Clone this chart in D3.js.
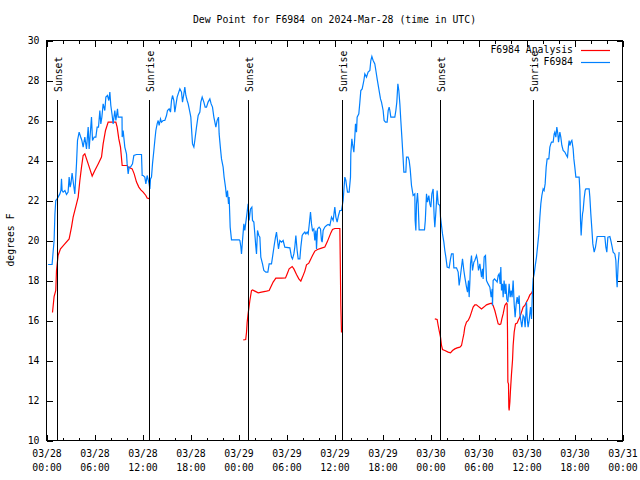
<!DOCTYPE html>
<html><head><meta charset="utf-8">
<script src="https://cdn.jsdelivr.net/npm/d3@7"></script>
<style>
body{margin:0;background:#fff;}
svg{display:block;}
text{font-family:"DejaVu Sans Mono",monospace;font-size:9.8px;fill:#000;}
</style></head><body>
<svg id="c" width="640" height="480"></svg>
<script>
const chartTitle = "Dew Point for F6984 on 2024-Mar-28 (time in UTC)";
const yLabel = "degrees F";
const seriesNames = ["F6984 Analysis", "F6984"];
const seriesColors = ["#ff0000", "#0080ff"];
const startUTC = Date.UTC(2024, 2, 28, 0, 0);
const endUTC = Date.UTC(2024, 2, 31, 0, 0);
const yTicks = [10, 12, 14, 16, 18, 20, 22, 24, 26, 28, 30];

// sun events: hours after 03/28 00:00 UTC
const sunHours = [1.33, 12.9, 25.2, 36.96, 49.2, 60.83];
const sunLabels = ["Sunset", "Sunrise", "Sunset", "Sunrise", "Sunset", "Sunrise"];

// observations F6984: [hours after start, degrees F]
const obsPoints = [
[0.2,18.8],[0.7,18.8],[0.8,19.3],[0.95,20.0],[1.05,21.3],[1.16,22.0],[1.33,22.08],[1.67,22.33],[1.8,22.5],[1.875,23.08],[1.95,22.5],[2.08,22.42],[2.3,22.5],[2.5,22.3],[2.7,22.42],[2.83,23.17],[2.95,22.67],[3.05,22.83],[3.2,23.37],[3.35,22.9],[3.54,22.33],[3.75,23.83],[3.875,25.0],[4.08,25.42],[4.25,25.2],[4.42,25.0],[4.58,24.67],[4.79,25.17],[5.0,24.58],[5.21,25.67],[5.33,24.58],[5.5,25.5],[5.625,26.17],[5.75,25.0],[5.96,25.17],[6.17,25.17],[6.33,25.67],[6.5,25.67],[6.67,26.5],[6.79,25.83],[6.92,26.17],[7.08,26.83],[7.29,26.5],[7.42,27.17],[7.625,27.25],[7.79,27.0],[7.92,27.42],[8.04,26.75],[8.21,26.25],[8.33,25.83],[8.54,26.5],[8.67,26.0],[8.875,26.58],[8.96,26.17],[9.44,26.17],[9.46,25.17],[9.58,25.5],[9.79,24.67],[10.0,24.33],[10.08,23.83],[10.21,23.33],[10.33,23.67],[10.5,23.67],[10.75,23.83],[10.92,24.25],[11.25,24.3],[11.875,24.3],[11.96,23.25],[12.08,23.25],[12.29,23.17],[12.42,22.83],[12.58,23.25],[12.83,22.83],[12.92,22.58],
[13.0,23.08],[13.125,23.17],[13.25,23.83],[13.42,24.5],[13.54,25.0],[13.67,25.5],[13.83,25.83],[13.96,26.0],[14.08,25.75],[14.25,26.08],[14.375,25.92],[14.58,26.0],[14.79,26.0],[15.0,26.25],[15.125,26.5],[15.33,26.58],[15.5,26.42],[15.625,27.0],[15.75,27.25],[15.92,27.0],[16.04,26.42],[16.17,26.75],[16.33,27.17],[16.46,27.33],[16.67,27.58],[16.875,27.42],[17.0,26.92],[17.17,27.33],[17.29,27.67],[17.42,27.25],[17.58,27.0],[17.71,26.83],[17.92,26.42],[18.04,26.17],[18.17,25.33],[18.25,24.83],[18.42,24.67],[18.54,25.0],[18.75,25.67],[18.96,26.25],[19.17,26.42],[19.29,26.92],[19.46,27.17],[19.67,26.92],[19.83,26.67],[20.0,26.67],[20.2,26.92],[20.42,27.08],[20.58,26.83],[20.75,26.67],[20.92,26.17],[21.17,25.67],[21.33,26.0],[21.5,26.17],[21.58,25.33],[21.75,24.58],[21.875,24.08],[22.08,23.67],[22.2,23.17],[22.375,22.67],[22.5,22.17],[22.625,22.5],[22.75,21.83],[22.83,22.17],[22.96,20.67],[23.125,20.03],[24.1,20.03],
[24.17,20.0],[24.29,19.7],[24.375,19.33],[24.5,20.0],[24.67,20.83],[24.79,20.5],[24.92,20.92],[25.08,21.42],[25.2,21.83],[25.33,21.0],[25.5,21.58],[25.67,21.67],[25.75,21.0],[25.92,20.92],[26.04,20.33],[26.17,19.67],[26.25,19.33],[26.375,20.5],[26.54,20.25],[26.67,20.17],[26.79,19.17],[27.0,18.83],[27.17,18.5],[27.42,18.42],[27.67,18.42],[27.83,18.83],[28.125,18.83],[28.25,19.17],[28.46,19.75],[28.625,20.17],[28.75,20.42],[28.875,20.0],[29.0,19.58],[29.17,20.0],[29.375,19.92],[29.58,20.0],[29.79,19.67],[30.42,19.63],[30.625,19.17],[30.75,19.08],[30.92,19.33],[31.04,19.67],[31.17,20.25],[31.33,19.5],[31.46,19.08],[31.67,19.08],[31.79,19.67],[31.96,20.25],[32.08,20.33],[32.29,20.42],[32.42,20.33],[32.58,20.42],[32.71,20.33],[32.83,20.75],[33.0,21.42],[33.125,20.83],[33.25,20.5],[33.42,20.58],[33.54,20.0],[33.67,20.5],[33.75,19.58],[33.875,20.58],[34.08,20.67],[34.25,20.58],[34.375,20.0],[34.46,19.92],[34.58,20.5],[34.79,20.67],[35.0,20.75],[35.2,20.8],
[35.42,20.75],[35.625,21.17],[35.83,21.0],[36.04,21.67],[36.17,21.17],[36.33,20.92],[36.5,21.25],[36.67,21.5],[36.875,21.5],[37.08,22.0],[37.29,23.17],[37.42,23.0],[37.5,22.75],[37.625,22.42],[37.83,22.42],[38.0,23.17],[38.04,24.33],[38.17,25.08],[38.25,24.83],[38.42,24.42],[38.54,25.17],[38.625,25.83],[38.75,25.42],[38.83,26.17],[39.04,26.33],[39.17,26.92],[39.29,27.5],[39.46,27.58],[39.67,28.0],[39.79,28.33],[40.0,28.17],[40.2,28.42],[40.42,28.5],[40.54,29.0],[40.67,29.2],[40.83,29.0],[41.04,28.83],[41.17,28.5],[41.33,28.08],[41.54,27.58],[41.75,27.08],[41.875,26.92],[42.08,26.5],[42.2,26.0],[42.375,25.92],[42.58,25.92],[42.71,26.5],[42.83,26.67],[42.92,26.5],[43.04,26.17],[43.54,26.17],[43.67,26.5],[43.79,26.92],[43.92,27.83],[44.04,27.5],[44.17,26.83],[44.29,26.0],[44.42,25.17],[44.58,24.08],[44.67,23.42],[44.92,23.42],[45.0,24.17],[45.2,24.17],[45.33,24.0],[45.46,23.58],[45.625,22.75],[45.83,22.25],[46.04,22.33],[46.08,21.0],[46.17,20.5],[46.25,21.83],[46.375,22.37],[46.46,21.83],[46.58,20.53],
[47.25,20.53],[47.35,21.0],[47.5,22.33],[47.625,21.92],[47.79,22.25],[47.92,21.83],[48.04,21.67],[48.17,22.33],[48.33,22.58],[48.46,21.17],[48.54,20.67],[48.67,21.42],[48.83,22.5],[48.96,21.83],[49.17,21.75],[49.25,21.17],[49.375,20.75],[49.5,20.33],[49.67,19.92],[49.79,19.5],[49.92,19.17],[50.08,18.67],[50.33,18.63],[50.5,19.08],[50.625,19.33],[50.83,19.33],[50.92,18.63],[51.25,18.63],[51.46,18.42],[51.58,17.75],[51.67,18.0],[51.875,18.67],[52.0,19.08],[52.17,18.5],[52.29,18.17],[52.5,17.67],[52.625,17.42],[52.75,18.0],[52.83,17.17],[52.92,17.92],[53.0,18.83],[53.125,19.25],[53.25,18.5],[53.42,18.92],[53.54,19.0],[53.75,19.25],[53.875,19.0],[54.0,18.5],[54.17,18.83],[54.375,18.17],[54.5,18.58],[54.58,18.08],[54.71,19.17],[54.875,19.25],[55.0,18.0],[55.2,17.83],[55.42,17.67],[55.58,17.17],[55.71,17.58],[55.75,16.75],[55.83,18.0],[56.0,18.08],[56.17,18.0],[56.33,17.92],[56.46,18.25],[56.58,18.33],[56.71,17.83],[56.79,18.67],[56.875,17.5],[57.0,17.83],[57.08,17.17],[57.2,18.0],[57.33,17.33],[57.42,17.83],[57.54,17.08],[57.67,16.92],[57.83,17.83],[57.96,17.17],[58.08,17.5],[58.2,17.17],[58.33,18.0],[58.46,16.83],[58.58,16.17],[58.71,16.83],[58.83,17.17],[58.96,16.83],[59.08,17.25],[59.17,16.33],[59.29,16.0],[59.42,15.67],[59.58,16.25],[59.71,16.17],[59.83,15.67],[60.0,16.92],[60.08,16.17],[60.2,15.67],[60.33,16.0],[60.5,16.67],[60.625,16.08],[60.75,17.5],
[60.83,18.08],[60.96,18.33],[61.125,18.83],[61.25,19.17],[61.375,19.67],[61.54,20.33],[61.67,21.17],[61.79,21.83],[61.92,22.25],[62.08,22.58],[62.2,22.5],[62.33,22.83],[62.46,23.67],[62.58,24.08],[62.79,24.08],[62.92,24.67],[63.04,24.83],[63.125,24.92],[63.33,24.92],[63.46,25.33],[63.54,25.42],[63.67,25.17],[63.79,25.67],[63.92,25.33],[64.0,24.92],[64.17,25.42],[64.29,25.17],[64.42,24.75],[64.58,24.5],[64.79,24.42],[65.0,24.25],[65.125,24.17],[65.25,24.75],[65.33,25.0],[65.42,24.75],[65.54,24.92],[65.67,25.0],[65.83,24.58],[65.92,24.08],[66.04,23.67],[66.17,23.17],[66.58,23.17],[66.67,22.5],[66.75,21.0],[66.83,20.25],[66.92,20.92],[67.0,21.33],[67.08,21.5],[67.2,22.08],[67.33,22.5],[67.42,22.58],[67.83,22.58],[67.92,22.17],[68.04,21.33],[68.17,20.58],[68.29,19.83],[68.46,19.42],[68.625,19.67],[68.75,20.0],[68.83,20.2],[69.79,20.2],[69.92,19.67],[70.04,19.42],[70.17,20.17],[70.42,20.2],[70.54,20.0],[70.71,19.67],[70.83,19.42],[71.04,19.33],[71.17,19.0],[71.25,18.17],[71.33,17.67],[71.46,18.83],[71.58,19.42]
];

// analysis F6984 (night-time only): [hours after start, degrees F]
const anaNight1 = [
[0.75,16.4],[0.95,17.2],[1.16,17.5],[1.25,18.5],[1.45,19.25],[1.75,19.58],[2.29,19.83],[2.83,20.08],[3.125,20.67],[3.33,21.17],[3.75,21.83],[3.96,22.17],[4.17,23.0],[4.375,23.67],[4.58,24.25],[4.79,24.33],[5.21,23.83],[5.71,23.22],[6.04,23.5],[6.46,23.83],[6.875,24.17],[7.08,24.83],[7.375,25.5],[7.71,25.92],[8.125,25.92],[8.67,25.92],[8.83,25.67],[9.04,25.08],[9.25,24.67],[9.46,23.75],[10.08,23.75],[10.21,23.67],[10.71,23.58],[10.96,23.33],[11.25,22.92],[11.54,22.67],[11.79,22.53],[12.08,22.42],[12.42,22.25],[12.58,22.12],[12.92,22.08]
];
const anaNight2 = [
[24.6,15.03],[24.9,15.05],[25.0,15.4],[25.08,15.9],[25.2,16.33],[25.42,17.0],[25.625,17.5],[25.75,17.53],[26.04,17.47],[26.46,17.38],[26.875,17.42],[27.5,17.47],[27.83,17.5],[28.125,17.75],[28.33,17.92],[28.67,18.12],[29.375,18.12],[29.875,18.13],[30.08,18.33],[30.33,18.58],[30.71,18.7],[30.92,18.58],[31.25,18.3],[31.54,18.08],[31.79,17.97],[32.0,18.17],[32.29,18.47],[32.5,18.78],[32.79,18.87],[33.04,19.08],[33.25,19.25],[33.54,19.47],[33.875,19.55],[34.375,19.62],[34.79,19.67],[35.08,19.92],[35.33,20.17],[35.54,20.38],[35.75,20.55],[36.04,20.6],[36.67,20.6],[36.71,19.33],[36.79,16.75],[36.875,15.4]
];
const anaNight3 = [
[48.54,16.08],[48.83,16.05],[48.96,15.75],[49.08,15.5],[49.25,15.17],[49.375,14.75],[49.5,14.55],[49.79,14.5],[50.21,14.42],[50.5,14.38],[50.75,14.5],[51.04,14.58],[51.33,14.63],[51.67,14.67],[51.875,14.75],[52.0,15.0],[52.17,15.33],[52.29,15.67],[52.5,15.92],[52.71,16.0],[52.92,16.17],[53.125,16.42],[53.33,16.67],[53.54,16.78],[53.75,16.78],[54.08,16.67],[54.375,16.58],[54.67,16.67],[55.0,16.78],[55.33,16.83],[55.625,16.87],[55.83,16.75],[56.04,16.5],[56.25,16.17],[56.46,15.83],[56.67,15.8],[56.79,15.83],[56.92,16.08],[57.08,16.33],[57.29,16.75],[57.5,16.87],[57.58,16.83],[57.625,15.5],[57.67,12.92],[57.75,12.83],[57.79,11.67],[57.83,11.5],[57.92,11.92],[58.0,12.53],[58.125,13.33],[58.25,14.0],[58.33,14.75],[58.46,15.42],[58.625,15.83],[58.83,15.87],[58.96,16.0],[59.17,16.17],[59.375,16.42],[59.58,16.67],[59.79,16.75],[60.0,16.92],[60.2,17.08],[60.42,17.28],[60.625,17.37],[60.8,17.5]
];

const HOUR = 3600000;
const toDate = h => new Date(startUTC + h * HOUR);

const svg = d3.select("#c");
const L = 46.5, R = 622.5, T = 40.5, B = 440.5;
const x = d3.scaleUtc().domain([new Date(startUTC), new Date(endUTC)]).range([L, R]);
const y = d3.scaleLinear().domain([10, 30]).range([B, T]);

const majorTimes = d3.utcHour.every(6).range(new Date(startUTC), new Date(endUTC + 1));
const minorTimes = d3.utcHour.every(2).range(new Date(startUTC), new Date(endUTC + 1))
  .filter(d => d.getUTCHours() % 6 !== 0);

function clean(g){ g.select(".domain").remove(); g.selectAll("line").attr("stroke","#000").attr("shape-rendering","crispEdges"); }

// bottom axis
svg.append("g").attr("transform", `translate(0,${B})`)
  .call(d3.axisBottom(x).tickValues(minorTimes).tickSize(-3).tickFormat(""))
  .call(clean);
const fmt1 = d3.utcFormat("%m/%d"), fmt2 = d3.utcFormat("%H:%M");
const xb = svg.append("g").attr("transform", `translate(0,${B})`)
  .call(d3.axisBottom(x).tickValues(majorTimes).tickSize(-6).tickPadding(9.5).tickFormat(fmt1))
  .call(clean);
xb.selectAll("text").each(function(d){
  const t = d3.select(this);
  t.attr("dy", null).text(null);
  t.append("tspan").attr("x", 0).attr("dy", "0.71em").text(fmt1(d));
  t.append("tspan").attr("x", 0).attr("dy", "14px").text(fmt2(d));
});
// top mirror
svg.append("g").attr("transform", `translate(0,${T})`)
  .call(d3.axisTop(x).tickValues(minorTimes).tickSize(-3).tickFormat("")).call(clean);
svg.append("g").attr("transform", `translate(0,${T})`)
  .call(d3.axisTop(x).tickValues(majorTimes).tickSize(-6).tickFormat("")).call(clean);
// left axis
svg.append("g").attr("transform", `translate(${L},0)`)
  .call(d3.axisLeft(y).tickValues(yTicks).tickSize(-6).tickPadding(7).tickFormat(d3.format("d")))
  .call(clean);
// right mirror
svg.append("g").attr("transform", `translate(${R},0)`)
  .call(d3.axisRight(y).tickValues(yTicks).tickSize(-6).tickFormat("")).call(clean);
svg.selectAll("g").attr("font-family", null).attr("font-size", null);

// frame
svg.append("rect").attr("x", L).attr("y", T).attr("width", R - L).attr("height", B - T)
  .attr("fill", "none").attr("stroke", "#000").attr("shape-rendering", "crispEdges");

// data lines
const line = d3.line().x(d => x(toDate(d[0]))).y(d => y(d[1]));
[anaNight1, anaNight2, anaNight3].forEach(s => {
  svg.append("path").datum(s).attr("d", line).attr("fill", "none")
    .attr("stroke", seriesColors[0]).attr("stroke-width", 1.2);
});
svg.append("path").datum(obsPoints).attr("d", line).attr("fill", "none")
  .attr("stroke", seriesColors[1]).attr("stroke-width", 1.2);

// sun event lines
sunHours.forEach((h, i) => {
  const xp = Math.round(x(toDate(h)) - 0.5) + 0.5;
  svg.append("line").attr("x1", xp).attr("x2", xp).attr("y1", 100).attr("y2", B)
    .attr("stroke", "#000").attr("shape-rendering", "crispEdges");
  svg.append("text").attr("transform", `translate(${xp + 1.5},92) rotate(-90)`)
    .attr("text-anchor", "start").attr("dy", "0.35em").text(sunLabels[i]);
});

// title & y label
svg.append("text").attr("x", (L + R) / 2).attr("y", 20).attr("dy", "0.35em")
  .attr("text-anchor", "middle").text(chartTitle);
svg.append("text").attr("transform", "translate(11,240) rotate(-90)")
  .attr("text-anchor", "middle").attr("dy", "0.35em").text(yLabel);

// legend
seriesNames.forEach((name, i) => {
  const ly = 49.5 + i * 12.5;
  svg.append("text").attr("x", 573).attr("y", ly).attr("dy", "0.35em")
    .attr("text-anchor", "end").text(name);
  svg.append("line").attr("x1", 581).attr("x2", 610).attr("y1", Math.round(ly) + 0.5).attr("y2", Math.round(ly) + 0.5)
    .attr("stroke", seriesColors[i]).attr("stroke-width", 1.2);
});
</script></body></html>
